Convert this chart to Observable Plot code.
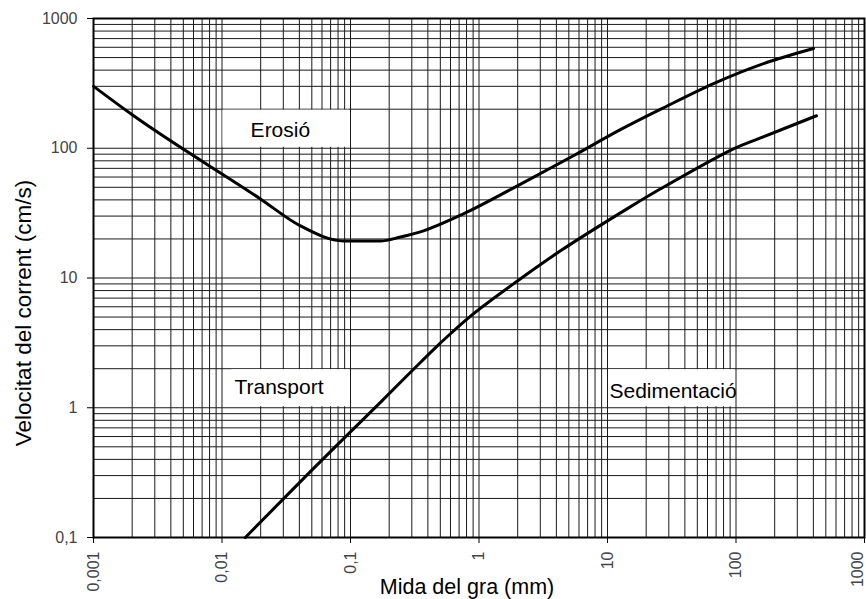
<!DOCTYPE html>
<html>
<head>
<meta charset="utf-8">
<script src="https://cdn.jsdelivr.net/npm/d3@7"></script>
<script src="https://cdn.jsdelivr.net/npm/@observablehq/plot@0.6"></script>
<style>
  body { margin: 0; background: #fff; }
  #chart svg { display: block; }
</style>
</head>
<body>
<div id="chart"></div>
<script>
// Hjulström curve: grain size (mm) against current velocity (cm/s)
const erosionSize = [0.001, 0.00194, 0.0199, 0.0408, 0.0882, 0.171, 0.245, 0.37, 0.757, 1.99, 5.43, 12.6, 27.3, 66.9, 164, 401];
const erosionVelocity = [300, 185, 40.7, 25.2, 19.3, 19.3, 20.7, 23.1, 31.2, 51.3, 87.5, 139, 205, 315, 449, 587];

const settlingSize = [0.0152, 0.0507, 0.171, 0.30, 0.50, 0.86, 1.99, 4.31, 14.6, 25.9, 95.6, 155, 423];
const settlingVelocity = [0.1, 0.335, 1.10, 1.92, 3.15, 5.09, 9.48, 16.2, 34.7, 48.7, 99, 120, 178];

// Axis ticks and their printed labels (decimal comma)
const xTicks = [0.001, 0.01, 0.1, 1, 10, 100, 1000];
const xTickLabels = ["0,001", "0,01", "0,1", "1", "10", "100", "1000"];
const yTicks = [0.1, 1, 10, 100, 1000];
const yTickLabels = ["0,1", "1", "10", "100", "1000"];

// Log-paper grid: multipliers 1..9 inside each decade
const gridMultipliers = [1, 2, 3, 4, 5, 6, 7, 8, 9];

// Region names, and the white boxes behind them (data units)
const regionNames = ["Erosió", "Transport", "Sedimentació"];
const regionX = [0.0167, 0.0125, 10.36];
const regionY = [138, 1.44, 1.34];
const boxX1 = [0.01, 0.0117, 10];
const boxX2 = [0.1, 0.1, 100];
const boxY1 = [100, 1, 1];
const boxY2 = [200, 2, 2];

const erosion = erosionSize.map((d, i) => ({size: d, velocity: erosionVelocity[i]}));
const settling = settlingSize.map((d, i) => ({size: d, velocity: settlingVelocity[i]}));
const regions = regionNames.map((name, i) => ({name, x: regionX[i], y: regionY[i]}));
const boxes = regionNames.map((name, i) => ({x1: boxX1[i], x2: boxX2[i], y1: boxY1[i], y2: boxY2[i]}));

const logGrid = (lo, hi) => {
  const out = [];
  for (let e = lo; e < hi; e++) for (const m of gridMultipliers) out.push(+(m * 10 ** e).toPrecision(3));
  out.push(10 ** hi);
  return out;
};
const gridX = logGrid(-3, 3);
const gridY = logGrid(-1, 3);

// log scales hand only the value to the formatter, so look labels up by value
const tickIndex = (ticks, d) => ticks.findIndex((t) => Math.abs(Math.log10(t) - Math.log10(d)) < 1e-9);
const lastX = xTicks.length - 1;
const xLabelInner = (d) => { const i = tickIndex(xTicks, d); return i >= 0 && i < lastX ? xTickLabels[i] : ""; };
const xLabelLast = (d) => (tickIndex(xTicks, d) === lastX ? xTickLabels[lastX] : "");
const yLabel = (d) => yTickLabels[tickIndex(yTicks, d)] ?? "";

const xAxisStyle = {tickRotate: -90, fill: "#444", stroke: "#000", label: null, fontSize: 16};

const chart = Plot.plot({
  width: 866,
  height: 599,
  marginLeft: 93,
  marginRight: 2,
  marginTop: 18,
  marginBottom: 62,
  style: {fontFamily: "'Liberation Sans', Arial, sans-serif", fontSize: "16px", background: "#fff", color: "#000"},
  x: {type: "log", domain: [0.001, 1000]},
  y: {type: "log", domain: [0.1, 1000]},
  marks: [
    Plot.ruleX(gridX, {stroke: "#1a1a1a", strokeWidth: 1}),
    Plot.ruleY(gridY, {stroke: "#1a1a1a", strokeWidth: 1}),
    Plot.rect(boxes, {x1: "x1", x2: "x2", y1: "y1", y2: "y2", fill: "#fff", inset: 1}),
    Plot.line(erosion, {x: "size", y: "velocity", stroke: "#000", strokeWidth: 3, curve: "monotone-x"}),
    Plot.line(settling, {x: "size", y: "velocity", stroke: "#000", strokeWidth: 3, curve: "catmull-rom"}),
    Plot.text(regions, {x: "x", y: "y", text: "name", textAnchor: "start", fontSize: 21, fill: "#000"}),
    Plot.frame({stroke: "#000", strokeWidth: 2}),
    Plot.axisX({...xAxisStyle, ticks: xTicks, tickFormat: xLabelInner, tickSize: 6, tickPadding: 8}),
    // the last label sits on the right edge; nudge it inward so it stays readable
    Plot.axisX({...xAxisStyle, ticks: xTicks.slice(lastX), tickFormat: xLabelLast, tickSize: 0, tickPadding: 14, dx: -7}),
    Plot.axisY({ticks: yTicks, tickFormat: yLabel, tickSize: 6, tickPadding: 10, fill: "#444", stroke: "#000", label: null, fontSize: 16}),
    Plot.text(["Mida del gra (mm)"], {frameAnchor: "bottom", dx: -12, dy: 50, fontSize: 21.5, fill: "#000", lineAnchor: "middle"}),
    Plot.text(["Velocitat del corrent (cm/s)"], {frameAnchor: "left", rotate: -90, dx: -70, dy: 35, fontSize: 22.5, fill: "#000", textAnchor: "middle", lineAnchor: "middle"})
  ]
});
document.getElementById("chart").append(chart);
</script>
</body>
</html>
